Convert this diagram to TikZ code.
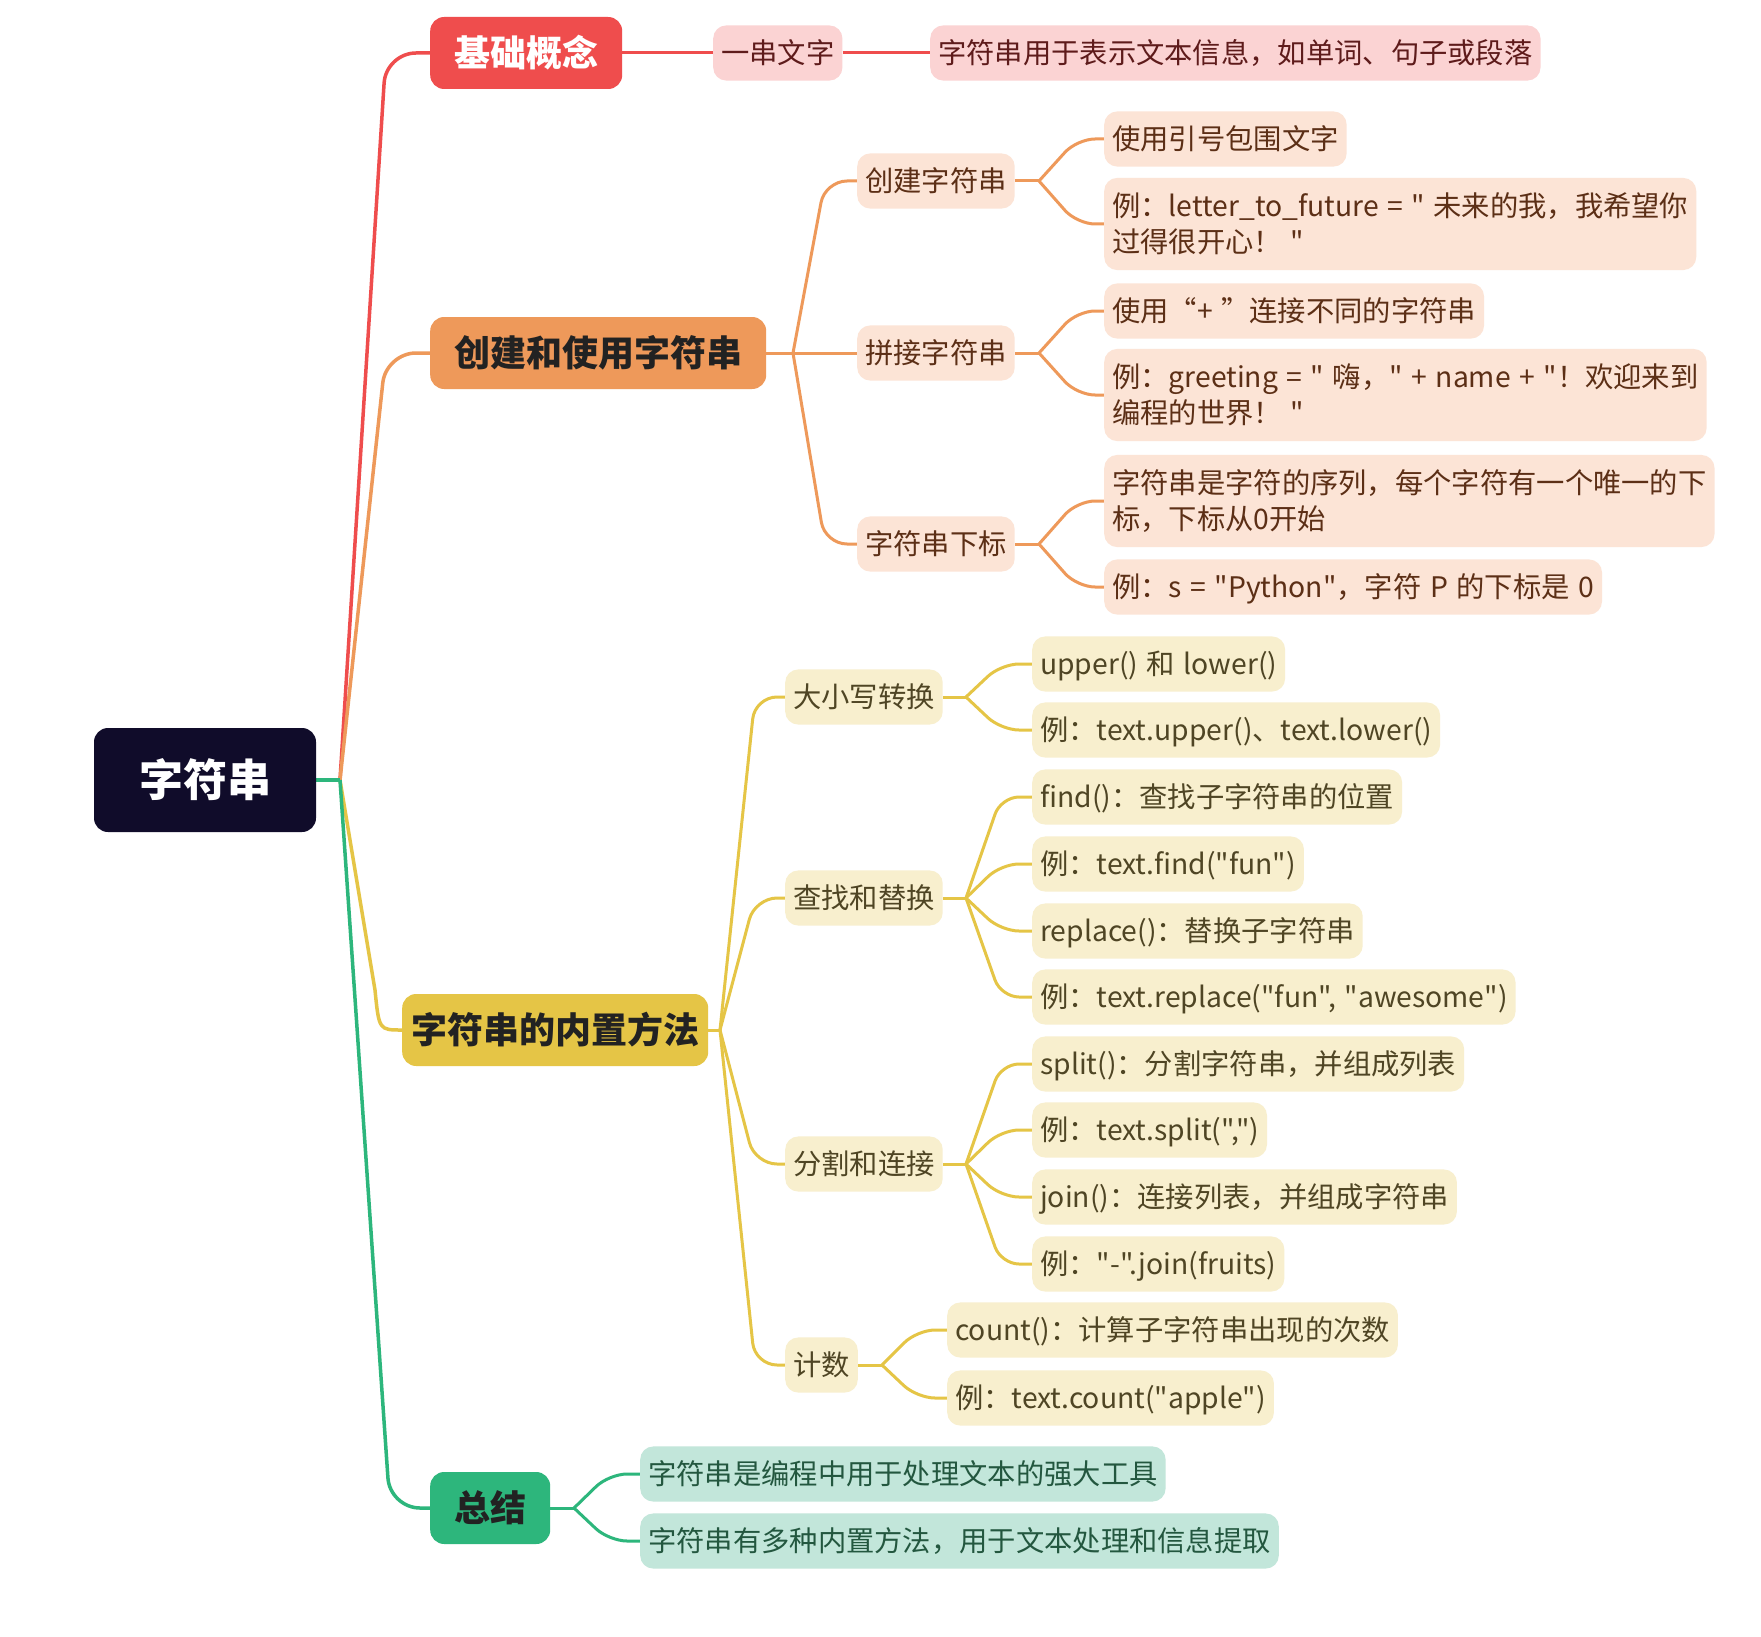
\documentclass[tikz,border=0pt]{standalone}
\usepackage{fontspec}
\setmainfont{Noto Sans CJK SC}[Ligatures=TeXOff, WordSpace=1.35]
\usetikzlibrary{calc,backgrounds}
\definecolor{rootc}{HTML}{100C2A}
\definecolor{redc}{HTML}{EF4D4D}
\definecolor{orc}{HTML}{EE995A}
\definecolor{yelc}{HTML}{E5C546}
\definecolor{grnc}{HTML}{2DB67C}
\definecolor{redl}{HTML}{FBD3D3}
\definecolor{orl}{HTML}{FCE4D6}
\definecolor{yell}{HTML}{F8EFCE}
\definecolor{grnl}{HTML}{C2E6DA}
\definecolor{redt}{HTML}{5E1B1B}
\definecolor{ort}{HTML}{5C2F16}
\definecolor{yelt}{HTML}{4F4524}
\definecolor{grnt}{HTML}{23573F}
\definecolor{maint}{HTML}{222222}
\newcommand\link[4]{\draw[#1] (#2) -- (#3 |- #4.west) -- (#4.west);}
\begin{document}
\begin{tikzpicture}[x=1pt,y=-1pt,
  rootbox/.style={fill=rootc, text=white, rounded corners=14pt,
    font=\fontsize{44}{52}\selectfont\bfseries, inner xsep=45pt, inner ysep=30pt,
    text height=38.7pt, text depth=5.3pt},
  mainbox/.style={rounded corners=14pt, font=\fontsize{36}{44}\selectfont\bfseries,
    inner xsep=24pt, inner ysep=18pt, text height=31.7pt, text depth=4.3pt, anchor=west, text=maint},
  subbox/.style={rounded corners=13pt, font=\fontsize{28.3}{36}\selectfont,
    inner xsep=8pt, inner ysep=13.5pt, text height=24.8pt, text depth=3.3pt, anchor=west, align=left},
  twoline/.style={text height=60.8pt, inner ysep=14pt},
  rsub/.style={subbox, fill=redl, text=redt},
  osub/.style={subbox, fill=orl, text=ort},
  ysub/.style={subbox, fill=yell, text=yelt},
  gsub/.style={subbox, fill=grnl, text=grnt},
  mline/.style={line width=3.5pt, rounded corners=30pt},
  sline/.style={line width=3pt, rounded corners=22pt},
  tline/.style={line width=3pt, rounded corners=18pt}
]
\useasboundingbox (0,0) rectangle (1761,1637);

% root and main topics
\node[rootbox] (root) at (205,780) {字符串};
\node[mainbox, fill=redc, text=white] (b1) at (430,53) {基础概念};
\node[mainbox, fill=orc] (b2) at (430,353) {创建和使用字符串};
\node[mainbox, fill=yelc, inner xsep=9pt] (b3) at (402,1030) {字符串的内置方法};
\node[mainbox, fill=grnc] (b4) at (430,1508) {总结};

% red branch
\node[rsub] (r1) at (713,53) {一串文字};
\node[rsub] (r2) at (930,53) {字符串用于表示文本信息，如单词、句子或段落};

% orange branch
\node[osub] (o1) at (857,181) {创建字符串};
\node[osub] (o2) at (857,353) {拼接字符串};
\node[osub] (o3) at (857,544) {字符串下标};
\node[osub] (o11) at (1104,139) {使用引号包围文字};
\node[osub, twoline] (o12) at (1104,224) {例：letter\_to\_future = " 未来的我，我希望你\\过得很开心！ "};
\node[osub] (o21) at (1104,311) {使用“+ ”连接不同的字符串};
\node[osub, twoline] (o22) at (1104,395) {例：greeting = " 嗨，" + name + "！欢迎来到\\编程的世界！ "};
\node[osub, twoline] (o31) at (1104,501) {字符串是字符的序列，每个字符有一个唯一的下\\标，下标从0开始};
\node[osub] (o32) at (1104,587) {例：s = "Python"，字符 P 的下标是 0};

% yellow branch
\node[ysub] (y1) at (785,697) {大小写转换};
\node[ysub] (y2) at (785,898) {查找和替换};
\node[ysub] (y3) at (785,1164) {分割和连接};
\node[ysub] (y4) at (785,1365) {计数};
\node[ysub] (y11) at (1032,664) {upper() 和 lower()};
\node[ysub] (y12) at (1032,730) {例：text.upper()、text.lower()};
\node[ysub] (y21) at (1032,797) {find()：查找子字符串的位置};
\node[ysub] (y22) at (1032,864) {例：text.find("fun")};
\node[ysub] (y23) at (1032,931) {replace()：替换子字符串};
\node[ysub] (y24) at (1032,997) {例：text.replace("fun", "awesome")};
\node[ysub] (y31) at (1032,1064) {split()：分割字符串，并组成列表};
\node[ysub] (y32) at (1032,1130) {例：text.split(",")};
\node[ysub] (y33) at (1032,1197) {join()：连接列表，并组成字符串};
\node[ysub] (y34) at (1032,1264) {例："-".join(fruits)};
\node[ysub] (y41) at (947,1330) {count()：计算子字符串出现的次数};
\node[ysub] (y42) at (947,1398) {例：text.count("apple")};

% green branch
\node[gsub] (g1) at (640,1474) {字符串是编程中用于处理文本的强大工具};
\node[gsub] (g2) at (640,1541) {字符串有多种内置方法，用于文本处理和信息提取};

% junctions and columns
\coordinate (J) at (340,780);
\coordinate (cm) at (386,0);
\coordinate (k2) at (793,353);
\coordinate (c2) at (825,0);
\coordinate (k3) at (720,1030);
\coordinate (c3) at (755,0);
\coordinate (ko1) at (1039,181);
\coordinate (ko2) at (1039,353);
\coordinate (ko3) at (1039,544);
\coordinate (co) at (1077,0);
\coordinate (ky1) at (966,697);
\coordinate (ky2) at (966,898);
\coordinate (ky3) at (966,1164);
\coordinate (cy) at (1001,0);
\coordinate (ky4) at (882,1365);
\coordinate (cy4) at (917,0);
\coordinate (kg) at (574,1508);
\coordinate (cg) at (609,0);

\begin{scope}[on background layer]
\fill[white] (0,0) rectangle (1761,1637);
% main branches
\link{redc, mline}{J}{cm}{b1}
\link{orc, mline}{J}{cm}{b2}
\draw[yelc, line width=3.5pt] (J) -- (375,990) .. controls (379,1030) .. (b3.west);
\draw[grnc, mline] (J) -- (390,1508) -- (b4.west);
\draw[grnc, line width=3.5pt] (root.east) -- (J);
% red
\draw[redc, line width=3pt] (b1.east) -- (r1.west);
\draw[redc, line width=3pt] (r1.east) -- (r2.west);
% orange
\draw[orc, line width=3pt] (b2.east) -- (k2);
\link{orc, sline}{k2}{c2}{o1}
\link{orc, sline}{k2}{c2}{o2}
\link{orc, sline}{k2}{c2}{o3}
\draw[orc, line width=3pt] (o1.east) -- (ko1);
\draw[orc, line width=3pt] (o2.east) -- (ko2);
\draw[orc, line width=3pt] (o3.east) -- (ko3);
\link{orc, tline}{ko1}{co}{o11}
\link{orc, tline}{ko1}{co}{o12}
\link{orc, tline}{ko2}{co}{o21}
\link{orc, tline}{ko2}{co}{o22}
\link{orc, tline}{ko3}{co}{o31}
\link{orc, tline}{ko3}{co}{o32}
% yellow
\draw[yelc, line width=3pt] (b3.east) -- (k3);
\link{yelc, sline}{k3}{c3}{y1}
\link{yelc, sline}{k3}{c3}{y2}
\link{yelc, sline}{k3}{c3}{y3}
\link{yelc, sline}{k3}{c3}{y4}
\draw[yelc, line width=3pt] (y1.east) -- (ky1);
\draw[yelc, line width=3pt] (y2.east) -- (ky2);
\draw[yelc, line width=3pt] (y3.east) -- (ky3);
\draw[yelc, line width=3pt] (y4.east) -- (ky4);
\link{yelc, tline}{ky1}{cy}{y11}
\link{yelc, tline}{ky1}{cy}{y12}
\link{yelc, tline}{ky2}{cy}{y21}
\link{yelc, tline}{ky2}{cy}{y22}
\link{yelc, tline}{ky2}{cy}{y23}
\link{yelc, tline}{ky2}{cy}{y24}
\link{yelc, tline}{ky3}{cy}{y31}
\link{yelc, tline}{ky3}{cy}{y32}
\link{yelc, tline}{ky3}{cy}{y33}
\link{yelc, tline}{ky3}{cy}{y34}
\link{yelc, tline}{ky4}{cy4}{y41}
\link{yelc, tline}{ky4}{cy4}{y42}
% green
\draw[grnc, line width=3pt] (b4.east) -- (kg);
\link{grnc, tline}{kg}{cg}{g1}
\link{grnc, tline}{kg}{cg}{g2}
\end{scope}
\end{tikzpicture}
\end{document}
